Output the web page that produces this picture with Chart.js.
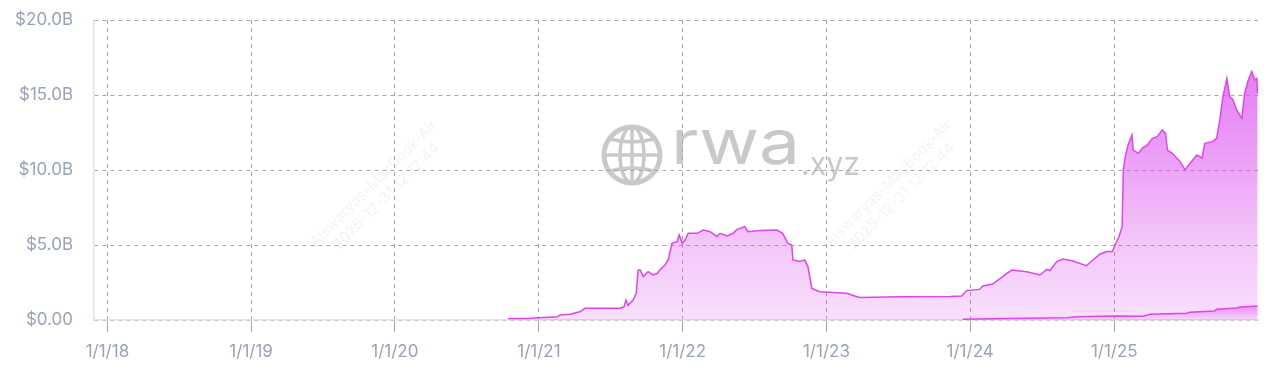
<!DOCTYPE html>
<html lang="en">
<head>
  <meta charset="UTF-8" />
  <title>RWA value chart</title>
  <script src="https://cdn.jsdelivr.net/npm/chart.js"></script>
  <style>
    html, body { margin: 0; padding: 0; background: #fff; }
    #wrap { width: 1280px; height: 369px; position: relative; }
  </style>
</head>
<body>
  <div id="wrap"><canvas id="rwaChart"></canvas></div>

  <script>
    // main series (values in $B)
    const mainDates = [
      '2020-10-15','2020-12-09','2021-02-17','2021-02-24','2021-03-21','2021-04-15','2021-04-28','2021-06-05',
      '2021-07-26','2021-08-05','2021-08-10','2021-08-15','2021-08-28','2021-09-05','2021-09-10','2021-09-15',
      '2021-09-23','2021-10-05','2021-10-18','2021-10-28','2021-11-04','2021-11-17','2021-11-25','2021-12-05',
      '2021-12-18','2021-12-23','2021-12-31','2022-01-07','2022-01-15','2022-02-07','2022-02-22','2022-03-12',
      '2022-03-29','2022-04-06','2022-04-24','2022-05-09','2022-05-19','2022-06-08','2022-06-16','2022-07-16',
      '2022-08-28','2022-09-12','2022-09-25','2022-10-05','2022-10-08','2022-10-26','2022-11-07','2022-11-15',
      '2022-11-25','2022-12-15','2023-02-22','2023-03-14','2023-03-27','2023-07-07','2023-11-10','2023-12-10',
      '2023-12-23','2024-01-25','2024-02-02','2024-02-27','2024-03-24','2024-04-03','2024-04-16','2024-05-24',
      '2024-06-26','2024-07-14','2024-07-22','2024-08-08','2024-08-24','2024-09-18','2024-10-22','2024-11-08',
      '2024-11-26','2024-12-14','2024-12-27','2025-01-03','2025-01-13','2025-01-21','2025-01-24','2025-01-29',
      '2025-02-05','2025-02-15','2025-02-18','2025-03-03','2025-03-13','2025-03-26','2025-04-08','2025-04-20',
      '2025-05-03','2025-05-11','2025-05-16','2025-05-28','2025-06-17','2025-06-30','2025-07-12','2025-07-30',
      '2025-08-12','2025-08-19','2025-09-08','2025-09-18','2025-09-26','2025-10-04','2025-10-14','2025-10-21',
      '2025-10-29','2025-11-08','2025-11-21','2025-11-28','2025-12-06','2025-12-16','2025-12-24','2025-12-29',
      '2025-12-31'
    ];
    const mainValues = [
      0.10, 0.12, 0.22, 0.33, 0.38, 0.55, 0.78, 0.78,
      0.78, 0.89, 1.33, 0.98, 1.33, 1.78, 3.33, 3.33,
      2.89, 3.22, 3.00, 3.10, 3.33, 3.67, 4.00, 5.11,
      5.22, 5.67, 5.11, 5.33, 5.78, 5.78, 6.00, 5.89,
      5.56, 5.78, 5.60, 5.78, 6.04, 6.22, 5.89, 5.96,
      6.00, 5.78, 5.11, 5.00, 4.00, 3.90, 4.00, 3.56,
      2.11, 1.89, 1.78, 1.60, 1.50, 1.55, 1.56, 1.60,
      1.96, 2.04, 2.27, 2.40, 2.89, 3.11, 3.33, 3.22,
      3.00, 3.38, 3.30, 3.89, 4.07, 3.93, 3.62, 4.00,
      4.40, 4.56, 4.56, 5.00, 5.56, 6.22, 10.00, 10.89,
      11.67, 12.33, 11.33, 11.11, 11.44, 11.67, 12.11, 12.22,
      12.67, 12.44, 11.33, 11.11, 10.56, 10.00, 10.44, 11.00,
      10.80, 11.78, 11.89, 12.11, 13.33, 14.89, 16.11, 14.89,
      14.70, 14.00, 13.44, 15.11, 15.89, 16.56, 16.00, 16.10,
      15.11
    ];

    // second (smaller) series
    const subDates = [
      '2023-12-13','2024-04-03','2024-09-03','2024-09-28','2024-12-29','2025-03-15','2025-04-02','2025-07-04',
      '2025-07-12','2025-09-13','2025-09-18','2025-11-08','2025-11-16','2025-12-31'
    ];
    const subValues = [0.05, 0.10, 0.15, 0.22, 0.27, 0.25, 0.38, 0.45, 0.52, 0.60, 0.71, 0.80, 0.86, 0.93];

    const yearTicks = [2018, 2019, 2020, 2021, 2022, 2023, 2024, 2025];
    const yTicks = [0, 5, 10, 15, 20];

    const toMs = d => Date.parse(d + 'T00:00:00Z');
    const mainPoints = mainDates.map((d, i) => ({ x: toMs(d), y: mainValues[i] }));
    const subPoints = subDates.map((d, i) => ({ x: toMs(d), y: subValues[i] }));

    const labelColor = '#98a2b8';
    const gridColor = '#a6a6a6';
    const axisColor = '#dfe3f1';

    const mainFill = (c) => {
      const a = c.chart.chartArea;
      if (!a) return 'rgba(217,70,239,0.3)';
      const g = c.chart.ctx.createLinearGradient(0, a.top, 0, a.bottom);
      g.addColorStop(0, 'rgba(217,70,239,0.8)');
      g.addColorStop(0.45, 'rgba(217,70,239,0.52)');
      g.addColorStop(0.75, 'rgba(217,70,239,0.3)');
      g.addColorStop(1, 'rgba(217,70,239,0.17)');
      return g;
    };
    const subFill = (c) => {
      const a = c.chart.chartArea;
      if (!a) return 'rgba(217,70,239,0.3)';
      const g = c.chart.ctx.createLinearGradient(0, a.bottom - 15, 0, a.bottom);
      g.addColorStop(0, 'rgba(217,70,239,0.55)');
      g.addColorStop(1, 'rgba(217,70,239,0.05)');
      return g;
    };

    // faint background stamp + rwa.xyz logo
    const watermark = {
      id: 'watermark',
      beforeDraw(chart) {
        const ctx = chart.ctx;
        ctx.save();

        ctx.fillStyle = 'rgba(0,0,0,0.05)';
        ctx.font = '15px Inter';
        ctx.textAlign = 'center';
        ctx.textBaseline = 'middle';
        [[380, 190], [895, 190]].forEach(([cx, cy]) => {
          ctx.save();
          ctx.translate(cx, cy);
          ctx.rotate(-Math.PI / 4);
          ctx.fillText('Aiswaryas-MacBook-Air', 0, -9);
          ctx.fillText('2025-12-31 12:12:44', 0, 9);
          ctx.restore();
        });

        const col = '#c9c9c9';
        ctx.strokeStyle = col;
        ctx.fillStyle = col;
        ctx.lineWidth = 5;
        const gx = 632, gy = 155, r = 28;
        ctx.beginPath(); ctx.arc(gx, gy, r, 0, Math.PI * 2); ctx.stroke();
        ctx.lineWidth = 3.5;
        ctx.beginPath(); ctx.ellipse(gx, gy, 12, r, 0, 0, Math.PI * 2); ctx.stroke();
        ctx.beginPath(); ctx.moveTo(gx, gy - r); ctx.lineTo(gx, gy + r); ctx.stroke();
        ctx.beginPath(); ctx.moveTo(gx - r, gy); ctx.lineTo(gx + r, gy); ctx.stroke();
        ctx.beginPath(); ctx.moveTo(gx - 22, gy - 16); ctx.quadraticCurveTo(gx, gy - 10, gx + 22, gy - 16); ctx.stroke();
        ctx.beginPath(); ctx.moveTo(gx - 22, gy + 16); ctx.quadraticCurveTo(gx, gy + 10, gx + 22, gy + 16); ctx.stroke();

        ctx.textAlign = 'left';
        ctx.textBaseline = 'alphabetic';
        ctx.font = '62px Inter';
        let w = ctx.measureText('rwa').width;
        ctx.save();
        ctx.translate(671, 164);
        ctx.scale(129 / w, 1);
        ctx.fillText('rwa', 0, 0);
        ctx.restore();
        ctx.font = '32px Inter';
        w = ctx.measureText('.xyz').width;
        ctx.save();
        ctx.translate(801, 175);
        ctx.scale(59 / w, 1);
        ctx.fillText('.xyz', 0, 0);
        ctx.restore();

        ctx.restore();
      }
    };

    new Chart(document.getElementById('rwaChart'), {
      type: 'line',
      data: {
        datasets: [
          {
            label: 'Total',
            data: mainPoints,
            borderColor: '#de45ef',
            borderWidth: 1.5,
            backgroundColor: mainFill,
            fill: 'origin',
            pointRadius: 0,
            tension: 0,
            order: 2
          },
          {
            label: 'Sub',
            data: subPoints,
            borderColor: '#de45ef',
            borderWidth: 1.5,
            backgroundColor: subFill,
            fill: 'origin',
            pointRadius: 0,
            tension: 0,
            order: 1
          }
        ]
      },
      options: {
        responsive: true,
        maintainAspectRatio: false,
        animation: false,
        layout: { padding: { top: 0, right: 22, left: 0, bottom: 0 } },
        plugins: { legend: { display: false }, tooltip: { enabled: false } },
        scales: {
          x: {
            type: 'linear',
            min: Date.UTC(2017, 10, 28),
            max: Date.UTC(2026, 0, 1),
            afterBuildTicks: s => { s.ticks = yearTicks.map(y => ({ value: Date.UTC(y, 0, 1) })); },
            afterFit: s => { s.height = 49; },
            ticks: {
              color: labelColor,
              font: { family: 'Inter', size: 17 },
              padding: 10,
              maxRotation: 0,
              autoSkip: false,
              callback: v => '1/1/' + String(new Date(v).getUTCFullYear() % 100).padStart(2, '0')
            },
            grid: { color: gridColor, tickColor: gridColor, tickLength: 12, lineWidth: 1 },
            border: { display: true, color: axisColor, width: 1.5, dash: [4, 4] }
          },
          y: {
            min: 0,
            max: 20,
            afterBuildTicks: s => { s.ticks = yTicks.map(v => ({ value: v })); },
            afterFit: s => { s.width = 94; s.paddingTop = 20; s.paddingBottom = 0; },
            ticks: {
              color: labelColor,
              font: { family: 'Inter', size: 17 },
              padding: 21,
              callback: v => v === 0 ? '$0.00' : '$' + v.toFixed(1) + 'B'
            },
            grid: { color: gridColor, drawTicks: false, lineWidth: 1 },
            border: { display: true, color: axisColor, width: 1.5, dash: [4, 4] }
          }
        }
      },
      plugins: [watermark]
    });
  </script>
</body>
</html>
